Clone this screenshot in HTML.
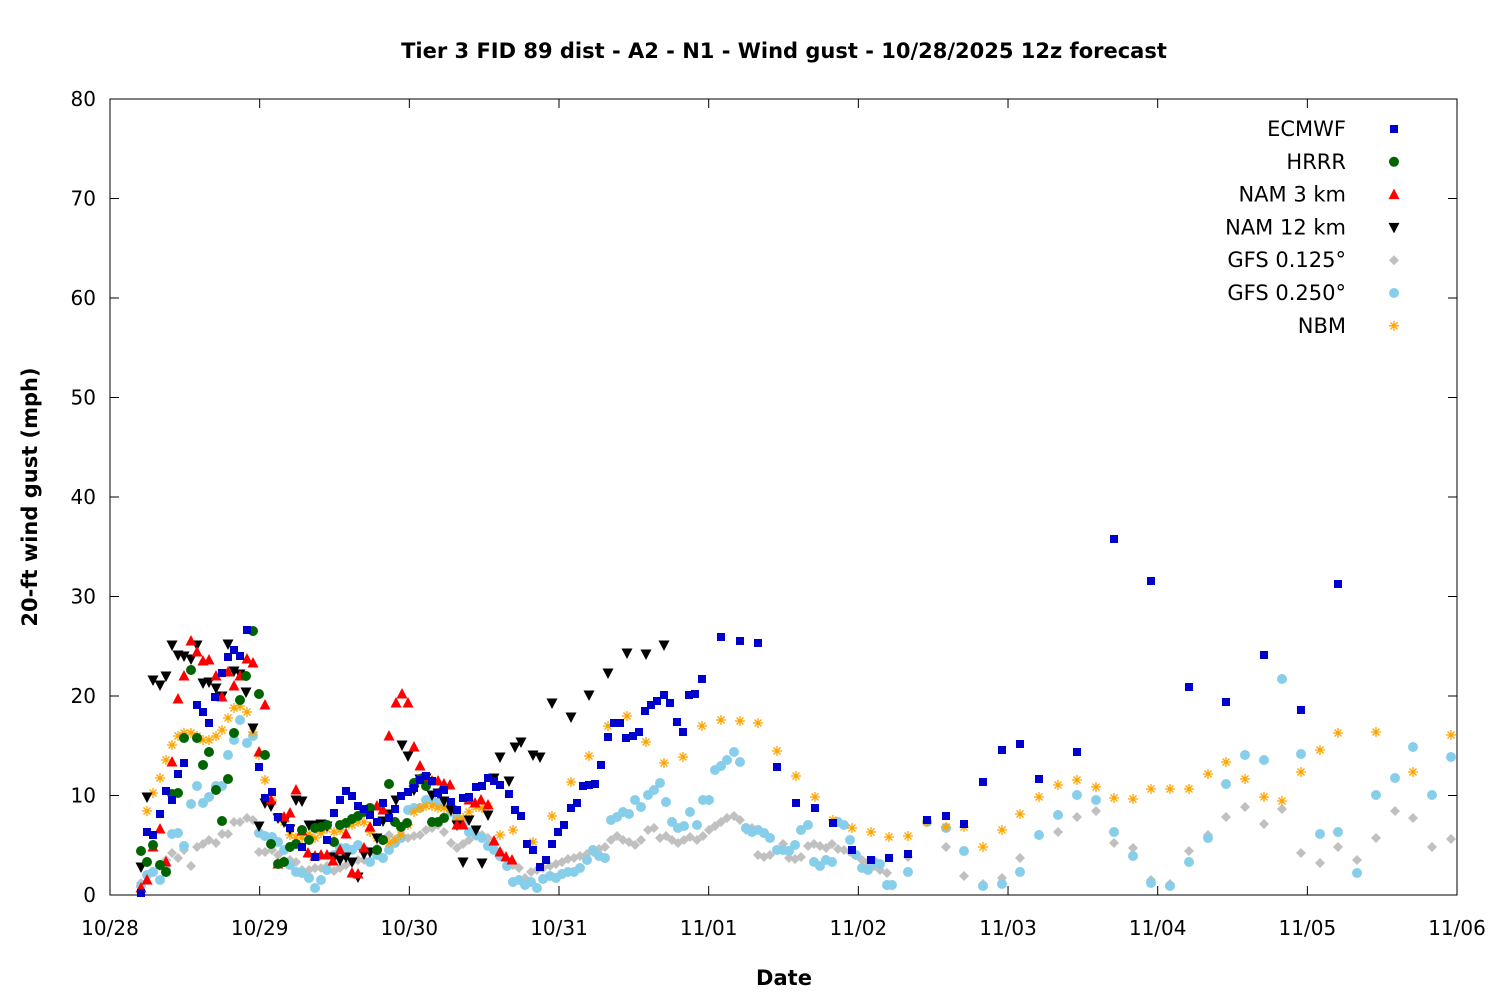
<!DOCTYPE html>
<html><head><meta charset="utf-8"><style>
html,body{margin:0;padding:0;background:#fff;}
svg{display:block;font-family:"DejaVu Sans","Liberation Sans",sans-serif;}
</style></head><body>
<svg id="s" width="1500" height="1000" xmlns="http://www.w3.org/2000/svg">
<rect width="1500" height="1000" fill="#fff"/>
<text x="784" y="58" text-anchor="middle" font-size="21" font-weight="bold">Tier 3 FID 89 dist - A2 - N1 - Wind gust - 10/28/2025 12z forecast</text>
<text x="784" y="985" text-anchor="middle" font-size="21" font-weight="bold">Date</text>
<text transform="translate(37,497) rotate(-90)" text-anchor="middle" font-size="21" font-weight="bold">20-ft wind gust (mph)</text>
<g id="ax"></g>
<g id="pts"></g>
<g id="leg" font-size="21" text-anchor="end"></g>
</svg>
<script>
var NS="http://www.w3.org/2000/svg";
function el(t,a,p){var e=document.createElementNS(NS,t);for(var k in a)e.setAttribute(k,a[k]);(p||document.getElementById('pts')).appendChild(e);return e;}
var ax=document.getElementById('ax');
el('rect',{x:110,y:99,width:1347,height:796,fill:'none',stroke:'#000','stroke-width':1},ax);
for(var i=0;i<=8;i++){var y=895-i*99.5;el('line',{x1:110,x2:119,y1:y,y2:y,stroke:'#000'},ax);el('line',{x1:1448,x2:1457,y1:y,y2:y,stroke:'#000'},ax);
var t=el('text',{x:96,y:y+7,'text-anchor':'end','font-size':20},ax);t.textContent=i*10;}
var dl=['10/28','10/29','10/30','10/31','11/01','11/02','11/03','11/04','11/05','11/06'];
for(var i=0;i<10;i++){var x=110+i*149.67;el('line',{x1:x,x2:x,y1:895,y2:886,stroke:'#000'},ax);el('line',{x1:x,x2:x,y1:99,y2:108,stroke:'#000'},ax);
var t=el('text',{x:x,y:935,'text-anchor':'middle','font-size':20},ax);t.textContent=dl[i];}
function mk(type,x,y,g){
 g=g||document.getElementById('pts');
 if(type=='sq')el('rect',{x:x-4,y:y-4,width:8,height:8,fill:'#0000cc'},g);
 else if(type=='ci')el('circle',{cx:x,cy:y,r:5,fill:'#006400'},g);
 else if(type=='up')el('polygon',{points:(x-5.5)+','+(y+4.5)+' '+(x+5.5)+','+(y+4.5)+' '+x+','+(y-6),fill:'#ff0000'},g);
 else if(type=='dn')el('polygon',{points:(x-5.5)+','+(y-4.5)+' '+(x+5.5)+','+(y-4.5)+' '+x+','+(y+6),fill:'#000'},g);
 else if(type=='di')el('polygon',{points:x+','+(y-5)+' '+(x+5)+','+y+' '+x+','+(y+5)+' '+(x-5)+','+y,fill:'#c0c0c0'},g);
 else if(type=='hx')el('circle',{cx:x,cy:y,r:5,fill:'#87ceeb'},g);
 else if(type=='as'){var s='#ffa500';el('path',{d:'M'+(x-5)+' '+y+'H'+(x+5)+'M'+x+' '+(y-5)+'V'+(y+5)+'M'+(x-3.5)+' '+(y-3.5)+'L'+(x+3.5)+' '+(y+3.5)+'M'+(x-3.5)+' '+(y+3.5)+'L'+(x+3.5)+' '+(y-3.5),stroke:s,'stroke-width':1.3,fill:'none'},g);}
}
function P(type,s){s.trim().split(/[\s,]+/).reduce(function(a,v,i,arr){if(i%2==0)mk(type,+arr[i],+arr[i+1]);return a;},0);}
function Q(type,s){var a=s.trim().split(/,/);a.forEach(function(p){var q=p.split(':');mk(type,+q[0],+q[1]);});}
Q('di',"141:883,147:875,153:872,160:866,166:860,172:853,178:858,184:850,191:866,197:847,203:844,209:840,216:843,222:834,228:834,234:822,240:822,247:818,253:820,259:852,265:852,272:850,278:855,284:861,290:860,296:862,302:870,309:870,315:868,321:868,327:866,334:871,340:868,346:865,352:862,358:860,364:860,370:852,377:848,383:840,389:835,395:840,401:835,408:838,414:836,420:835,426:830,432:828,438:825,444:832,451:843,457:848,463:844,469:840,476:836,482:835,488:838,494:845,500:852,507:860,513:865,519:868,525:878,531:872,537:870,543:868,550:866,556:864,562:862,568:859,574:858,580:856,587:854,593:852,599:849,605:847,611:840,617:836,623:840,629:842,635:845,641:840,648:830,654:828,660:838,666:836,672:840,678:843,684:840,690:837,697:840,703:836,709:830,715:826,721:822,727:818,734:816,740:820,746:830,752:828,758:855,764:857,770:855,777:850,783:844,789:858,795:859,801:857,808:846,814:844,820:846,826:848,832:844,838:849,844:850,850:852,856:855,862:860,868:862,874:866,880:870,887:873,908:857,946:847,964:876,983:884,1002:878,1020:858,1058:832,1077:817,1096:811,1114:843,1133:848,1151:880,1170:884,1189:851,1208:835,1226:817,1245:807,1264:824,1282:809,1301:853,1320:863,1338:847,1357:860,1376:838,1395:811,1413:818,1432:847,1451:839");
Q('hx',"141:886,147:875,153:872,160:880,166:870,172:834,178:833,184:846,191:804,197:786,203:803,209:797,216:786,222:786,228:755,234:740,240:720,247:743,253:736,259:833,265:836,272:837,278:842,284:850,290:865,296:872,302:873,309:878,315:888,321:880,327:870,334:855,340:848,346:848,352:850,358:845,364:850,370:862,377:855,383:858,389:850,395:843,401:838,408:810,414:808,420:808,426:800,432:800,438:803,444:805,451:812,457:818,463:824,469:832,476:835,482:838,488:846,494:850,500:856,507:866,513:882,519:880,525:885,531:882,537:888,543:879,550:876,556:878,562:874,568:872,574:872,580:868,587:860,593:850,599:856,605:858,611:820,617:817,623:812,629:814,635:800,641:807,648:795,654:790,660:783,666:802,672:822,678:828,684:826,690:812,697:825,703:800,709:800,715:770,721:766,727:760,734:752,740:762,746:828,752:832,758:830,764:833,770:838,777:850,783:850,789:851,795:845,801:830,808:825,814:862,820:866,826:860,832:862,838:822,844:825,850:840,856:855,862:868,868:870,874:862,880:864,887:885,892:885,908:872,927:822,946:828,964:851,983:886,1002:884,1020:872,1039:835,1058:815,1077:795,1096:800,1114:832,1133:856,1151:883,1170:886,1189:862,1208:838,1226:784,1245:755,1264:760,1282:679,1301:754,1320:834,1338:832,1357:873,1376:795,1395:778,1413:747,1432:795,1451:757");
Q('as',"147:811,153:793,160:778,166:760,172:745,178:736,184:733,191:733,197:736,203:740,209:740,216:736,222:730,228:718,234:708,240:706,247:712,253:732,259:755,265:780,272:800,278:818,284:822,290:835,296:838,302:838,309:834,315:838,321:833,327:829,334:832,340:830,346:825,352:825,358:822,364:822,370:832,377:838,383:840,389:843,395:840,401:835,408:825,414:812,420:808,426:806,432:806,438:808,444:808,451:811,457:820,463:818,469:812,476:807,482:808,488:806,500:835,513:830,533:842,552:816,571:782,589:756,608:726,627:716,646:742,664:763,683:757,702:726,721:720,740:721,758:723,777:751,796:776,815:797,833:820,852:828,871:832,889:837,908:836,927:822,946:827,964:827,983:847,1002:830,1020:814,1039:797,1058:785,1077:780,1096:787,1114:798,1133:799,1151:789,1170:789,1189:789,1208:774,1226:762,1245:779,1264:797,1282:801,1301:772,1320:750,1338:733,1376:732,1413:772,1451:735");
Q('dn',"141:867,147:797,153:680,160:685,166:676,172:645,178:655,184:656,191:659,197:645,203:683,209:682,216:688,222:696,228:644,234:671,240:674,246:692,253:728,259:826,265:803,271:806,278:818,284:822,290:829,296:800,302:801,309:825,315:825,321:824,327:826,334:857,340:860,346:857,352:862,358:877,364:854,370:852,377:838,383:821,389:814,396:800,402:745,408:756,414:790,420:779,426:778,432:795,438:793,444:801,451:810,457:825,463:862,469:820,476:830,482:863,488:815,494:778,500:757,509:781,515:747,521:742,533:755,540:757,552:703,571:717,589:695,608:673,627:653,646:654,664:645");
Q('up',"141:888,147:880,153:847,160:829,166:862,172:762,178:699,184:676,191:641,197:652,203:661,209:660,216:676,222:697,228:672,234:686,240:676,247:659,253:663,259:752,265:705,271:800,278:864,284:817,290:813,296:790,302:831,308:853,315:856,321:855,327:855,333:861,340:850,346:834,352:873,358:874,364:848,370:827,377:806,383:810,389:736,396:703,402:694,408:703,414:747,420:766,426:778,432:781,438:781,444:784,450:785,457:825,463:825,469:800,475:803,481:800,488:805,494:841,500:852,506:857,512:860");
Q('ci',"141:851,147:862,153:845,160:865,166:872,172:794,178:793,184:738,191:670,197:738,203:765,209:752,216:790,222:821,228:779,234:733,240:700,246:676,253:631,259:694,265:755,271:844,278:864,284:862,290:847,296:844,302:830,309:840,315:828,321:827,327:825,334:842,340:825,346:823,352:819,358:816,364:812,370:808,377:850,383:840,389:784,395:822,401:827,407:823,414:783,420:779,426:786,432:822,438:822,444:818");
Q('sq',"141:893,147:832,153:835,160:814,166:791,172:800,178:774,184:763,197:705,203:712,209:723,215:697,222:673,228:657,234:650,240:656,247:630,259:767,265:798,272:792,278:817,290:828,302:847,315:857,327:840,334:813,340:800,346:791,352:796,358:806,364:809,370:815,377:822,383:803,389:818,395:809,401:796,408:792,414:788,420:780,426:776,432:781,438:793,444:790,451:802,457:810,463:798,469:797,476:787,482:786,488:778,494:781,500:785,509:794,515:810,521:816,527:844,533:850,540:867,546:860,552:844,558:832,564:825,571:808,577:803,583:786,589:785,595:784,601:765,608:737,614:723,620:723,626:738,633:736,639:732,645:711,651:705,657:701,664:695,670:703,677:722,683:732,689:695,695:694,702:679,721:637,740:641,758:643,777:767,796:803,815:808,833:823,852:850,871:860,889:858,908:854,927:820,946:816,964:824,983:782,1002:750,1020:744,1039:779,1077:752,1114:539,1151:581,1189:687,1226:702,1264:655,1301:710,1338:584");
var leg=document.getElementById('leg');
var L=[['ECMWF','sq'],['HRRR','ci'],['NAM 3 km','up'],['NAM 12 km','dn'],['GFS 0.125°','di'],['GFS 0.250°','hx'],['NBM','as']];
L.forEach(function(l,i){var y=129+i*32.8;var t=el('text',{x:1346,y:y+7},leg);t.textContent=l[0];mk(l[1],1394,y,leg);});
</script>
</body></html>
